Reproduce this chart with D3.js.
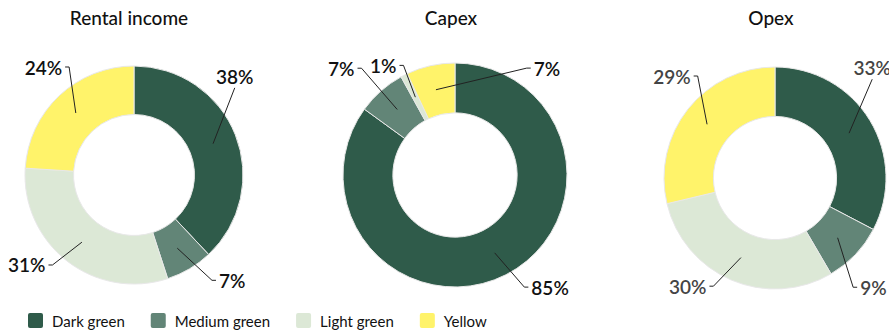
<!DOCTYPE html>
<html>
<head>
<meta charset="utf-8">
<script src="https://cdn.jsdelivr.net/npm/d3@7"></script>
<style>
body { margin: 0; background: #fff; }
svg { display: block; font-family: Lato, 'Open Sans', sans-serif; }
</style>
</head>
<body>
<div id="chart"></div>
<script>
// data
var categories = ['Dark green', 'Medium green', 'Light green', 'Yellow'];
var titles = ['Rental income', 'Capex', 'Opex'];
var rentalValues = [38, 7, 31, 24];
var capexValues = [85, 7, 1, 7];
var opexValues = [33, 9, 30, 29];
var allValues = [rentalValues, capexValues, opexValues];

var colors = ['#2f5b4a', '#628577', '#dce8d6', '#fff36a'];
var color = d3.scaleOrdinal().domain(categories).range(colors);

// layout of each donut
var pieLayout = [
	{cx: 134, cy: 175, r: 109, titleX: 129, labelColor: '#111'},
	{cx: 455, cy: 175, r: 112, titleX: 451, labelColor: '#111'},
	{cx: 775, cy: 178, r: 111, titleX: 771, labelColor: '#444'}
];
// where the labels sit: [radius, angle in degrees from 12 o'clock]
var labelSpots = [
	[[141, 45.6], [144, 137], [140, 230], [141, 320]],
	[[147, 139.7], [156, 313.2], [131, 326.8], [141, 40.7]],
	[[147, 41.4], [147, 138], [139, 218.9], [145, 314.7]]
];

var width = 889, height = 334;
var svg = d3.select('#chart').append('svg')
	.attr('width', width)
	.attr('height', height);

var pie = d3.pie().sort(null).value(d => d.value);

function drawDonut(i) {
	let lay = pieLayout[i];
	let data = categories.map((c, j) => ({cat: c, value: allValues[i][j]}));
	let arcs = pie(data);
	let arc = d3.arc().innerRadius(lay.r * 0.555).outerRadius(lay.r);
	let mid = d3.arc().innerRadius(lay.r * 0.78).outerRadius(lay.r * 0.78);

	svg.append('text')
		.attr('x', lay.titleX)
		.attr('y', 25)
		.attr('text-anchor', 'middle')
		.style('font-size', '19px')
		.style('font-weight', 500)
		.style('fill', '#111')
		.text(titles[i]);

	let g = svg.append('g')
		.attr('transform', 'translate(' + lay.cx + ',' + lay.cy + ')');

	g.selectAll('path.slice')
		.data(arcs)
		.enter()
		.append('path')
		.attr('class', 'slice')
		.attr('d', arc)
		.attr('fill', d => color(d.data.cat))
		.attr('stroke', '#e8e8e8')
		.attr('stroke-width', 1);

	arcs.forEach((d, j) => {
		let spot = labelSpots[i][j];
		let a = spot[1] * Math.PI / 180;
		let lx = spot[0] * Math.sin(a), ly = -spot[0] * Math.cos(a);
		let t = g.append('text')
			.attr('x', lx)
			.attr('y', ly)
			.attr('text-anchor', 'middle')
			.attr('dominant-baseline', 'central')
			.style('font-size', '19px')
			.style('font-weight', 600)
			.style('fill', lay.labelColor)
			.text(d.data.value + '%');
		let box = t.node().getBBox();
		let hw = box.width / 2, hh = box.height / 2 - 3;
		let c = mid.centroid(d);
		let dx = c[0] - lx, dy = c[1] - ly;
		let pts;
		if (Math.abs(dy) > 1.5 * Math.abs(dx)) {
			pts = [c, [lx, ly + Math.sign(dy) * (hh + 3)]];
		} else {
			let s = Math.sign(dx);
			let edge = lx + s * (hw + 3);
			pts = [c, [edge + s * 4, ly], [edge, ly]];
		}
		g.append('path')
			.attr('d', d3.line()(pts))
			.attr('fill', 'none')
			.attr('stroke', '#222')
			.attr('stroke-width', 1);
	});
}

for (let i = 0; i < titles.length; ++i) {
	drawDonut(i);
}

// legend
let legend = svg.append('g').attr('transform', 'translate(28,313)');
let lx = 0;
categories.forEach(c => {
	let item = legend.append('g').attr('transform', 'translate(' + lx + ',0)');
	item.append('rect')
		.attr('width', 15)
		.attr('height', 15)
		.attr('rx', 2)
		.attr('fill', color(c));
	let t = item.append('text')
		.attr('x', 24)
		.attr('y', 8)
		.attr('dominant-baseline', 'central')
		.style('font-size', '15px')
		.style('fill', '#111')
		.text(c);
	lx += 24 + t.node().getComputedTextLength() + 26;
});
</script>
</body>
</html>
